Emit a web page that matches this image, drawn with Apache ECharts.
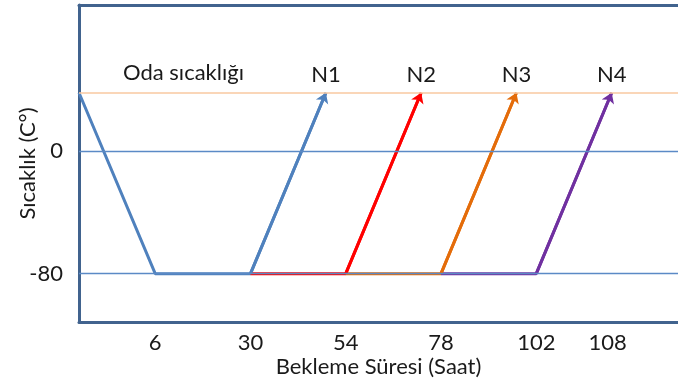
<!DOCTYPE html>
<html><head><meta charset="utf-8">
<script src="https://cdn.jsdelivr.net/npm/echarts@6/dist/echarts.min.js"></script>
<style>html,body{margin:0;padding:0;background:#fff}#c{width:678px;height:383px}</style>
</head><body><div id="c"></div>
<script>
// Data (x: hours on a linear scale, y: temperature °C)
const roomTemp = 38;
const freezeTemp = -80;
const N1 = [[-13.2, 38], [6, -80], [30, -80], [49, 38]];
const N2 = [[30, -80], [54, -80], [73, 38]];
const N3 = [[54, -80], [78, -80], [97, 38]];
const N4 = [[78, -80], [102, -80], [121, 38]];
const seriesNames = ['N1', 'N2', 'N3', 'N4'];
const seriesData = [N1, N2, N3, N4];
const xTickValues = [6, 30, 54, 78, 102, 120];
const xTickLabels = ['6', '30', '54', '78', '102', '108'];
const yTickValues = [0, -80];
const roomLabel = 'Oda sıcaklığı';

const colors = ['#4F81BD', '#FF0000', '#E46C0A', '#7030A0'];
const frame = '#41638E';
const FONT = 'Lato';
const FS = 22;
const txt = '#1a1a1a';

const chart = echarts.init(document.getElementById('c'));
const series = [{
  type: 'line', data: [], z: 1, silent: true,
  markLine: {
    silent: true, symbol: 'none', label: {show: false},
    data: [
      {yAxis: 0, lineStyle: {color: '#5B8AC6', width: 1.3, type: 'solid', opacity: 1}},
      {yAxis: freezeTemp, lineStyle: {color: '#5B8AC6', width: 1.3, type: 'solid', opacity: 1}},
      {yAxis: roomTemp, lineStyle: {color: '#F8C8A0', width: 1.5, type: 'solid', opacity: 1}}
    ]
  }
}];
seriesData.forEach((d, i) => {
  series.push({
    type: 'line', name: seriesNames[i], data: d, z: 3,
    showSymbol: false, symbol: 'none',
    lineStyle: {color: colors[i], width: 3}, itemStyle: {color: colors[i]},
    markPoint: {
      symbol: 'circle', symbolSize: 0, silent: true,
      label: {show: true, position: 'top', distance: 7, formatter: seriesNames[i],
        fontFamily: FONT, fontSize: FS, color: txt},
      data: [{coord: d[d.length - 1]}]
    }
  });
  series.push({
    type: 'lines', coordinateSystem: 'cartesian2d', z: 4, silent: true,
    symbol: ['none', 'arrow'], symbolSize: 10,
    lineStyle: {color: colors[i], width: 3, opacity: 1},
    data: [{coords: [d[d.length - 2], d[d.length - 1]]}]
  });
});

chart.setOption({
  animation: false,
  grid: {left: 79, right: 0, top: 5, bottom: 61, containLabel: false, outerBoundsMode: 'none'},
  xAxis: [{
    type: 'value', min: -13.2, max: 137.7,
    axisLine: {show: true, onZero: false, lineStyle: {color: frame, width: 3}},
    axisTick: {show: false}, splitLine: {show: false},
    axisLabel: {customValues: xTickValues, margin: 10, fontFamily: FONT, fontSize: FS, color: txt,
      formatter: v => xTickLabels[xTickValues.indexOf(v)]},
    name: 'Bekleme Süresi (Saat)', nameLocation: 'middle', nameGap: 34, nameMoveOverlap: false,
    nameTextStyle: {fontFamily: FONT, fontSize: FS, color: txt}
  }, {
    type: 'value', position: 'top', min: -13.2, max: 137.7,
    axisLine: {show: true, onZero: false, lineStyle: {color: frame, width: 3}},
    axisTick: {show: false}, splitLine: {show: false}, axisLabel: {show: false}
  }],
  yAxis: {
    type: 'value', min: -111.5, max: 95.2,
    axisLine: {show: true, onZero: false, lineStyle: {color: frame, width: 3}},
    axisTick: {show: false}, splitLine: {show: false},
    axisLabel: {customValues: yTickValues, margin: 16, fontFamily: FONT, fontSize: FS, color: txt},
    name: 'Sıcaklık (C°)', nameLocation: 'middle', nameGap: 40, nameRotate: 90, nameMoveOverlap: false,
    nameTextStyle: {fontFamily: FONT, fontSize: FS, color: txt}
  },
  graphic: [{
    type: 'text', left: 123, top: 62,
    style: {text: roomLabel, font: FS + 'px Lato', fill: txt}
  }],
  series: series
});
</script></body></html>
